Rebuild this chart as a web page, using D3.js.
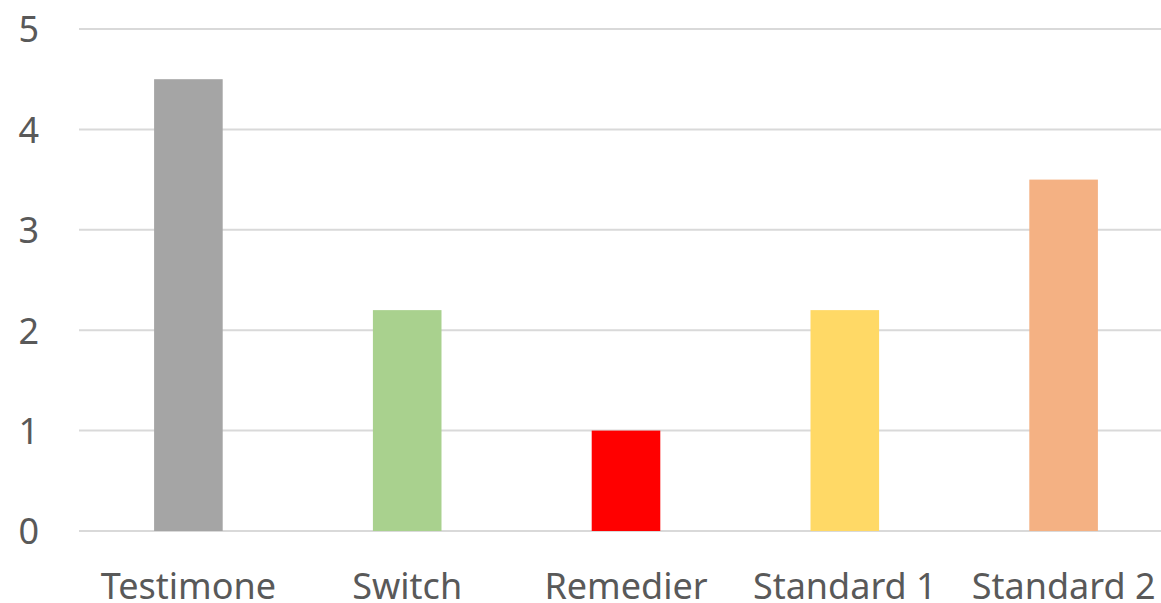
<!DOCTYPE html>
<html>
<head>
<meta charset="utf-8">
<script src="https://cdn.jsdelivr.net/npm/d3@7"></script>
<style>
  html, body { margin: 0; padding: 0; background: #fff; }
  svg { display: block; }
</style>
</head>
<body>
<svg id="chart" width="1161" height="603"></svg>
<script>
// Chart data
const categories = ["Testimone", "Switch", "Remedier", "Standard 1", "Standard 2"];
const values = [4.5, 2.2, 1.0, 2.2, 3.5];
const barColors = ["#a5a5a5", "#a9d18e", "#ff0000", "#ffd966", "#f4b183"];
const yTicks = [0, 1, 2, 3, 4, 5];

const svg = d3.select("#chart");
const margin = { left: 79, right: 1173, top: 29, bottom: 531 };

const gap = 0.6865;
const x = d3.scaleBand()
  .domain(categories)
  .range([margin.left, margin.right])
  .paddingInner(gap)
  .paddingOuter(gap / 2);

const y = d3.scaleLinear()
  .domain([0, 5])
  .range([margin.bottom, margin.top]);

// Horizontal gridlines
svg.append("g")
  .selectAll("line")
  .data(yTicks)
  .join("line")
  .attr("x1", margin.left)
  .attr("x2", margin.right)
  .attr("y1", d => y(d))
  .attr("y2", d => y(d))
  .attr("stroke", "#d9d9d9")
  .attr("stroke-width", 2);

// Y-axis labels
const yAxis = d3.axisLeft(y).tickValues(yTicks).tickSize(0).tickPadding(40).tickFormat(d3.format("d"));
const gy = svg.append("g")
  .attr("transform", `translate(${margin.left},0)`)
  .call(yAxis);
gy.select(".domain").remove();
gy.selectAll("text")
  .attr("fill", "#595959")
  .attr("font-family", "'Noto Sans', sans-serif")
  .attr("font-size", 36)
  .attr("dy", "0.36em");

// Bars
svg.append("g")
  .selectAll("rect")
  .data(categories)
  .join("rect")
  .attr("x", d => x(d))
  .attr("width", x.bandwidth())
  .attr("y", (d, i) => y(values[i]))
  .attr("height", (d, i) => y(0) - y(values[i]))
  .attr("fill", (d, i) => barColors[i]);

// Category axis labels
const xAxis = d3.axisBottom(x).tickSize(0).tickPadding(42);
const gx = svg.append("g")
  .attr("transform", `translate(0,${margin.bottom})`)
  .call(xAxis);
gx.select(".domain").remove();
gx.selectAll("text")
  .attr("fill", "#595959")
  .attr("font-family", "'Noto Sans', sans-serif")
  .attr("font-size", 36)
  .attr("dy", "0.71em");
</script>
</body>
</html>
